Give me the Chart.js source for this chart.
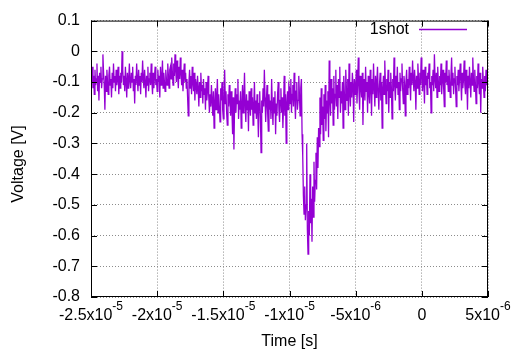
<!DOCTYPE html>
<html>
<head>
<meta charset="utf-8">
<script src="https://cdn.jsdelivr.net/npm/chart.js@4.4.0/dist/chart.umd.min.js"></script>
<style>
  html, body { margin: 0; padding: 0; background: #fff; }
</style>
</head>
<body>
<canvas id="myChart" width="518" height="358"></canvas>
<script>
const FONT = '"Liberation Sans", Arial, Helvetica, sans-serif';

// sampling of the scope trace
const t0 = -2.5e-5;
const dt = 5e-8;

// voltage samples [V]
const voltage = [
  -0.07,-0.10,-0.05,-0.12,-0.08,-0.14,-0.06,-0.11,-0.09,-0.04,
  -0.13,-0.08,-0.16,-0.07,-0.10,-0.05,-0.12,-0.09,-0.01,-0.07,
  -0.11,-0.19,-0.08,-0.13,-0.06,-0.10,-0.14,-0.08,-0.05,-0.11,
  -0.09,-0.15,-0.07,-0.12,-0.04,-0.10,-0.08,-0.13,-0.06,-0.11,
  -0.09,-0.05,-0.14,-0.08,-0.12,-0.07,-0.10,0.00,-0.06,-0.11,
  -0.08,-0.13,-0.05,-0.10,-0.15,-0.07,-0.12,-0.09,-0.04,-0.10,
  -0.12,-0.07,-0.10,-0.05,-0.13,-0.09,-0.17,-0.08,-0.11,-0.04,
  -0.09,-0.13,-0.06,-0.11,-0.08,-0.14,-0.07,-0.10,-0.03,-0.09,
  -0.12,-0.06,-0.10,-0.15,-0.08,-0.11,-0.05,-0.13,-0.09,-0.07,
  -0.11,-0.04,-0.10,-0.14,-0.07,-0.12,-0.08,-0.05,-0.11,-0.09,
  -0.13,-0.06,-0.10,-0.08,-0.15,-0.05,-0.11,-0.09,-0.03,-0.12,
  -0.07,-0.10,-0.13,-0.06,-0.09,-0.11,-0.04,-0.08,-0.12,-0.06,
  -0.05,-0.09,-0.02,-0.07,-0.11,-0.04,-0.08,-0.01,-0.06,-0.10,
  -0.03,-0.08,-0.12,-0.05,-0.09,-0.02,-0.07,-0.11,-0.06,-0.13,
  -0.08,-0.04,-0.10,-0.07,-0.12,-0.09,-0.15,-0.21,-0.10,-0.06,
  -0.12,-0.08,-0.14,-0.05,-0.10,-0.13,-0.07,-0.16,-0.09,-0.11,
  -0.14,-0.08,-0.12,-0.18,-0.10,-0.15,-0.07,-0.13,-0.11,-0.17,
  -0.09,-0.14,-0.12,-0.19,-0.10,-0.16,-0.13,-0.08,-0.15,-0.20,
  -0.14,-0.18,-0.11,-0.16,-0.21,-0.13,-0.25,-0.17,-0.12,-0.19,
  -0.15,-0.09,-0.20,-0.14,-0.18,-0.23,-0.12,-0.16,-0.10,-0.19,
  -0.22,-0.15,-0.06,-0.17,-0.13,-0.20,-0.24,-0.14,-0.18,-0.11,
  -0.16,-0.21,-0.13,-0.19,-0.27,-0.15,-0.32,-0.18,-0.12,-0.20,
  -0.14,-0.17,-0.09,-0.22,-0.16,-0.19,-0.13,-0.25,-0.18,-0.11,
  -0.20,-0.15,-0.07,-0.18,-0.23,-0.14,-0.19,-0.16,-0.26,-0.13,
  -0.17,-0.21,-0.12,-0.19,-0.15,-0.24,-0.18,-0.10,-0.20,-0.16,
  -0.22,-0.14,-0.19,-0.28,-0.17,-0.13,-0.21,-0.33,-0.16,-0.20,
  -0.12,-0.18,-0.06,-0.15,-0.23,-0.17,-0.11,-0.20,-0.26,-0.14,
  -0.19,-0.16,-0.22,-0.09,-0.18,-0.24,-0.15,-0.20,-0.13,-0.27,
  -0.17,-0.21,-0.14,-0.10,-0.19,-0.23,-0.16,-0.12,-0.20,-0.15,
  -0.25,-0.18,-0.08,-0.21,-0.14,-0.30,-0.17,-0.13,-0.19,-0.11,
  -0.12,-0.17,-0.09,-0.20,-0.14,-0.11,-0.18,-0.07,-0.15,-0.22,
  -0.13,-0.10,-0.19,-0.16,-0.08,-0.14,-0.21,-0.12,-0.09,-0.27,
  -0.34,-0.47,-0.53,-0.44,-0.55,-0.50,-0.30,-0.58,-0.66,-0.52,
  -0.60,-0.40,-0.56,-0.48,-0.62,-0.44,-0.54,-0.36,-0.49,-0.42,
  -0.33,-0.45,-0.28,-0.38,-0.25,-0.31,-0.15,-0.27,-0.12,-0.24,
  -0.18,-0.29,-0.14,-0.22,-0.11,-0.26,-0.16,-0.20,-0.13,-0.28,
  -0.03,-0.15,-0.21,-0.09,-0.17,-0.12,-0.24,-0.08,-0.19,-0.14,
  -0.06,-0.18,-0.11,-0.22,-0.09,-0.15,-0.05,-0.20,-0.13,-0.17,
  -0.10,-0.25,-0.08,-0.14,-0.19,-0.06,-0.12,-0.16,-0.09,-0.21,
  -0.04,-0.13,-0.18,-0.10,-0.15,-0.07,-0.11,-0.23,-0.09,-0.14,
  -0.12,-0.06,-0.17,-0.10,-0.02,-0.13,-0.19,-0.08,-0.11,-0.15,
  -0.07,-0.24,-0.12,-0.09,-0.16,-0.05,-0.13,-0.10,-0.20,-0.08,
  -0.13,-0.17,-0.06,-0.11,-0.21,-0.09,-0.14,-0.04,-0.12,-0.18,
  -0.08,-0.15,-0.10,-0.05,-0.13,-0.19,-0.11,-0.07,-0.16,-0.10,
  -0.25,-0.12,-0.08,-0.14,-0.03,-0.11,-0.17,-0.09,-0.13,-0.06,
  -0.20,-0.10,-0.15,-0.07,-0.12,-0.22,-0.09,-0.13,-0.02,-0.11,
  -0.16,-0.08,-0.12,-0.05,-0.14,-0.10,-0.19,-0.07,-0.13,-0.09,
  -0.04,-0.12,-0.17,-0.08,-0.11,-0.21,-0.10,-0.06,-0.14,-0.09,
  -0.12,-0.05,-0.10,-0.16,-0.07,-0.11,-0.03,-0.09,-0.13,-0.06,
  -0.10,-0.19,-0.08,-0.12,-0.04,-0.09,-0.14,-0.07,-0.11,-0.02,
  -0.08,-0.13,-0.06,-0.10,-0.17,-0.05,-0.11,-0.08,-0.14,-0.07,
  -0.09,-0.04,-0.12,-0.10,-0.20,-0.08,-0.11,-0.06,-0.13,-0.01,
  -0.09,-0.12,-0.07,-0.15,-0.05,-0.10,-0.13,-0.08,-0.11,-0.04,
  -0.14,-0.09,-0.06,-0.12,-0.18,-0.07,-0.10,-0.03,-0.11,-0.08,
  -0.13,-0.06,-0.10,-0.15,-0.08,-0.02,-0.11,-0.07,-0.14,-0.09,
  -0.05,-0.12,-0.18,-0.08,-0.11,-0.06,-0.13,-0.09,-0.04,-0.10,
  -0.16,-0.07,-0.12,-0.09,-0.03,-0.11,-0.14,-0.06,-0.10,-0.19,
  -0.08,-0.12,-0.05,-0.10,-0.15,-0.07,-0.11,-0.02,-0.09,-0.13,
  -0.06,-0.11,-0.17,-0.08,-0.12,-0.04,-0.10,-0.14,-0.07,-0.20,
  -0.09,-0.12,-0.05,-0.10,-0.15,-0.08,-0.13,-0.06,-0.11,-0.09,
  -0.12
];

// tick labels
const xTicks = [-2.5e-5, -2e-5, -1.5e-5, -1e-5, -5e-6, 0, 5e-6];
const xTickBase = ['-2.5x10', '-2x10', '-1.5x10', '-1x10', '-5x10', '0', '5x10'];
const xTickExp = ['-5', '-5', '-5', '-5', '-6', '', '-6'];
const yTicks = [0.1, 0, -0.1, -0.2, -0.3, -0.4, -0.5, -0.6, -0.7, -0.8];
const yTickLabels = ['0.1', '0', '-0.1', '-0.2', '-0.3', '-0.4', '-0.5', '-0.6', '-0.7', '-0.8'];

const seriesName = '1shot';
const traceColor = '#9400d3';

const points = voltage.map((v, i) => ({ x: t0 + i * dt, y: v }));

// border, inward tick marks, x labels with exponents, titles, key
const gnuplotFrame = {
  id: 'gnuplotFrame',
  afterDraw(chart) {
    const { ctx, chartArea: a, scales: { x, y } } = chart;
    ctx.save();
    ctx.strokeStyle = '#000';
    ctx.lineWidth = 1;
    const seg = (x1, y1, x2, y2) => { ctx.beginPath(); ctx.moveTo(x1, y1); ctx.lineTo(x2, y2); ctx.stroke(); };

    xTicks.forEach(v => {
      const px = Math.round(x.getPixelForValue(v)) + 0.5;
      seg(px, a.bottom, px, a.bottom - 6);
      seg(px, a.top, px, a.top + 6);
    });
    yTicks.forEach(v => {
      const py = Math.round(y.getPixelForValue(v)) + 0.5;
      seg(a.left, py, a.left + 6, py);
      seg(a.right, py, a.right - 6, py);
    });
    ctx.strokeRect(a.left + 0.5, a.top + 0.5, a.right - a.left - 1, a.bottom - a.top - 1);

    ctx.fillStyle = '#000';
    ctx.textBaseline = 'alphabetic';
    ctx.textAlign = 'left';
    xTicks.forEach((v, i) => {
      const px = x.getPixelForValue(v);
      ctx.font = '16px ' + FONT;
      const w1 = ctx.measureText(xTickBase[i]).width;
      ctx.font = '12px ' + FONT;
      const w2 = xTickExp[i] ? ctx.measureText(xTickExp[i]).width : 0;
      const sx = px - (w1 + w2) / 2;
      ctx.font = '16px ' + FONT;
      ctx.fillText(xTickBase[i], sx, 320);
      if (xTickExp[i]) {
        ctx.font = '12px ' + FONT;
        ctx.fillText(xTickExp[i], sx + w1, 310);
      }
    });

    ctx.font = '16px ' + FONT;
    ctx.textAlign = 'center';
    ctx.textBaseline = 'middle';
    ctx.fillText('Time [s]', (a.left + a.right) / 2, 342);
    ctx.save();
    ctx.translate(19, 164);
    ctx.rotate(-Math.PI / 2);
    ctx.fillText('Voltage [V]', 0, 0);
    ctx.restore();

    ctx.textAlign = 'right';
    ctx.fillText(seriesName, 409, 30);
    ctx.strokeStyle = traceColor;
    ctx.lineWidth = 1.5;
    seg(419, 29.5, 467, 29.5);
    ctx.restore();
  }
};

const config = {
  type: 'line',
  data: {
    datasets: [{
      label: seriesName,
      data: points,
      borderColor: traceColor,
      borderWidth: 1.3,
      pointRadius: 0,
      tension: 0,
      fill: false
    }]
  },
  options: {
    responsive: false,
    animation: false,
    events: [],
    layout: { padding: { left: 0, right: 30, top: 14, bottom: 0 } },
    plugins: { legend: { display: false }, tooltip: { enabled: false } },
    scales: {
      x: {
        type: 'linear',
        min: -2.5e-5,
        max: 5e-6,
        afterBuildTicks: s => { s.ticks = xTicks.map(v => ({ value: v })); },
        afterFit: s => { s.height = 61; },
        ticks: { display: false },
        grid: { color: '#8c8c8c', drawTicks: false },
        border: { display: false, dash: [1, 2] }
      },
      y: {
        min: -0.8,
        max: 0.1,
        afterBuildTicks: s => { s.ticks = yTicks.map(v => ({ value: v })); },
        afterFit: s => { s.width = 91; },
        ticks: {
          padding: 11,
          color: '#000',
          font: { size: 16, family: FONT },
          callback: (v, i) => yTickLabels[i]
        },
        grid: { color: '#8c8c8c', drawTicks: false },
        border: { display: false, dash: [1, 2] }
      }
    }
  },
  plugins: [gnuplotFrame]
};

const myChart = new Chart(document.getElementById('myChart'), config);
</script>
</body>
</html>
